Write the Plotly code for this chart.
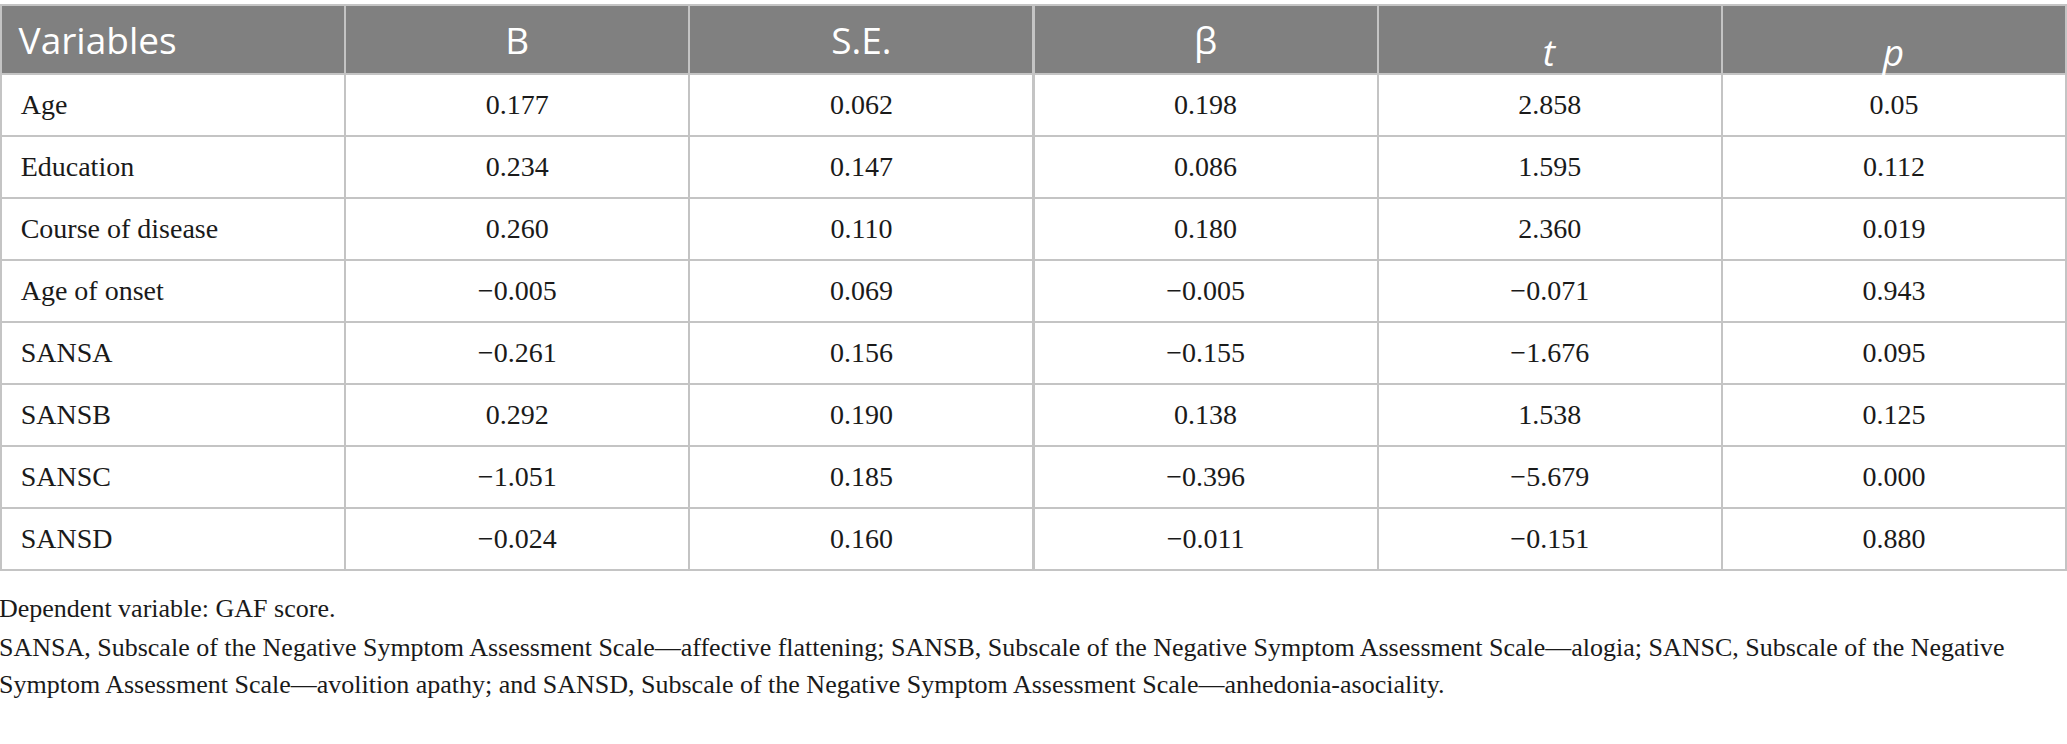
import plotly.graph_objects as go

# ---- data ----
headers = ["Variables", "B", "S.E.", "β", "<i>t</i>", "<i>p</i>"]
variables = ["Age", "Education", "Course of disease", "Age of onset",
             "SANSA", "SANSB", "SANSC", "SANSD"]
B = ["0.177", "0.234", "0.260", "−0.005", "−0.261", "0.292", "−1.051", "−0.024"]
SE = ["0.062", "0.147", "0.110", "0.069", "0.156", "0.190", "0.185", "0.160"]
beta = ["0.198", "0.086", "0.180", "−0.005", "−0.155", "0.138", "−0.396", "−0.011"]
t_vals = ["2.858", "1.595", "2.360", "−0.071", "−1.676", "1.538", "−5.679", "−0.151"]
p_vals = ["0.05", "0.112", "0.019", "0.943", "0.095", "0.125", "0.000", "0.880"]

footnotes = [
    "Dependent variable: GAF score.",
    "SANSA, Subscale of the Negative Symptom Assessment Scale—affective flattening; SANSB, Subscale of the Negative Symptom Assessment Scale—alogia; SANSC, Subscale of the Negative",
    "Symptom Assessment Scale—avolition apathy; and SANSD, Subscale of the Negative Symptom Assessment Scale—anhedonia-asociality.",
]

W, H = 2067, 744
table_top = 5
table_bottom = 600
header_h = 69
row_h = 62
col_w = [1, 1, 1, 1, 1, 1]
aligns = ["left", "center", "center", "center", "center", "center"]

x0, x1 = 1 / W, 1 - 1 / W
head_pad = "\u00a0"
body_pad = "\u00a0\u2006"
clear = "rgba(0,0,0,0)"
n_rows = len(variables)

# table 1: the grid (header band, cell fills and rules)
fig = go.Figure(go.Table(
    domain=dict(x=[x0, x1], y=[1 - table_bottom / H, 1 - table_top / H]),
    columnwidth=col_w,
    header=dict(values=[""] * len(headers), fill_color="#808080",
                line=dict(color="#c4c4c4", width=2), height=header_h),
    cells=dict(values=[[""] * n_rows for _ in headers], fill_color="white",
               line=dict(color="#c4c4c4", width=2), height=row_h),
))

# table 2: transparent overlay carrying the texts, nudged down so that the
# (top-aligned) table text sits in the vertical middle of each row
shift = 13
fig.add_trace(go.Table(
    domain=dict(x=[x0, x1], y=[1 - (table_bottom + shift) / H, 1 - (table_top + shift) / H]),
    columnwidth=col_w,
    header=dict(
        values=[head_pad + headers[0]] + headers[1:],
        fill_color=clear,
        line=dict(color=clear, width=0),
        align=aligns,
        font=dict(family="Open Sans", size=37, color="white"),
        height=header_h - 3,
    ),
    cells=dict(
        values=[[body_pad + v for v in variables], B, SE, beta, t_vals, p_vals],
        fill_color=clear,
        line=dict(color=clear, width=0),
        align=aligns,
        font=dict(family="Liberation Serif", size=28, color="#1a1a1a"),
        height=row_h,
    ),
))

ys = [608, 647, 684]
for txt, y in zip(footnotes, ys):
    fig.add_annotation(text=txt, x=-3 / W, xref="paper", xanchor="left",
                       y=1 - y / H, yref="paper", yanchor="middle",
                       showarrow=False,
                       font=dict(family="Liberation Serif", size=26, color="#1a1a1a"))

fig.update_layout(width=W, height=H, margin=dict(l=0, r=0, t=0, b=0),
                  paper_bgcolor="white", plot_bgcolor="white")
fig.write_html("out.html", config={"displayModeBar": False},
               post_script="document.body.style.margin='0px';")
